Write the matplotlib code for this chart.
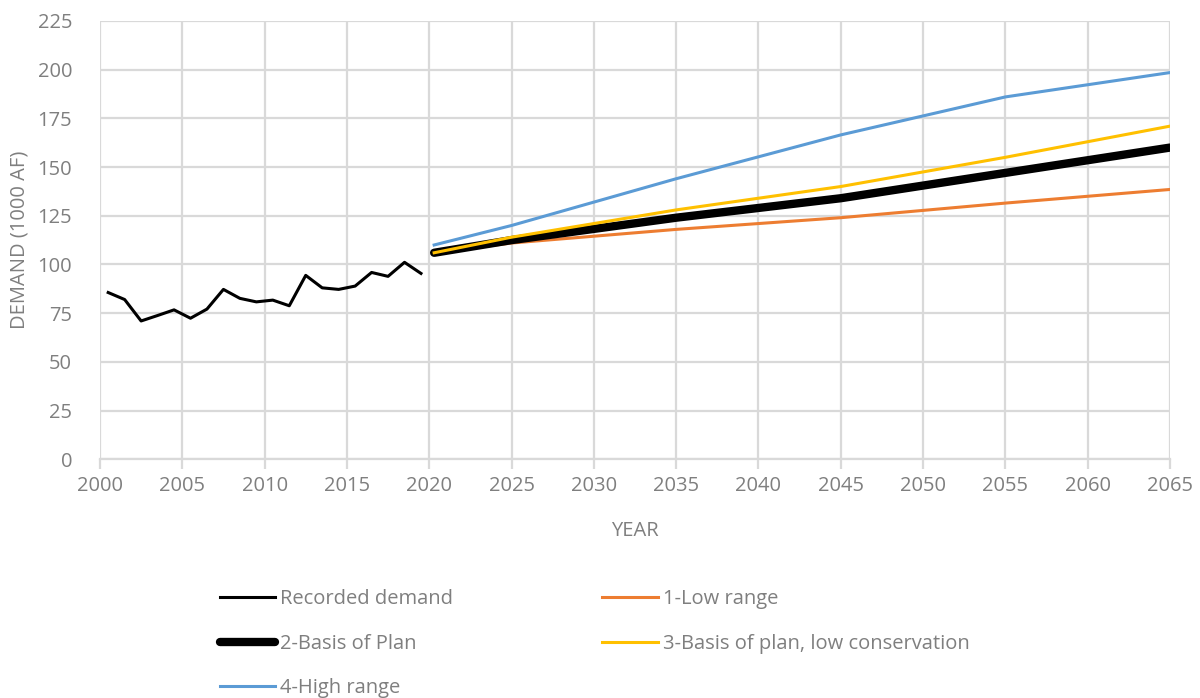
import matplotlib
matplotlib.use("Agg")
import matplotlib.pyplot as plt

# recorded annual demand (1000 AF), plotted mid-year
rec_years = [2000.5, 2001.5, 2002.5, 2003.5, 2004.5, 2005.5, 2006.5, 2007.5, 2008.5, 2009.5,
             2010.5, 2011.5, 2012.5, 2013.5, 2014.5, 2015.5, 2016.5, 2017.5, 2018.5, 2019.5]
rec_demand = [85.6, 82.0, 71.0, 73.8, 76.7, 72.4, 77.1, 87.2, 82.6, 80.8,
              81.7, 78.8, 94.4, 88.0, 87.2, 88.9, 95.9, 93.9, 101.1, 95.4]

# projection scenarios
proj_years = [2020.3, 2025, 2035, 2045, 2055, 2065]
low_range = [106, 111, 118, 124, 131.5, 138.5]
basis_plan = [106, 112.5, 124, 134, 147, 160]
basis_low_cons = [106, 114, 128, 140, 155, 171]
high_range = [110, 120, 144, 166.5, 186, 198.5]

x_ticks = list(range(2000, 2066, 5))
y_ticks = list(range(0, 226, 25))

grey = "#7f7f7f"
grid_c = "#d9d9d9"
fs = 14.5
plt.rcParams["font.family"] = ["Open Sans", "DejaVu Sans"]

fig = plt.figure(figsize=(12, 6.98), dpi=100)
ax = fig.add_axes([0.0833, 0.342, 0.8917, 0.628])

l1, = ax.plot(rec_years, rec_demand, color="black", lw=2.2, label="Recorded demand")
l2, = ax.plot(proj_years, low_range, color="#ed7d31", lw=2.2, label="1-Low range", zorder=3)
l3, = ax.plot(proj_years, basis_plan, color="black", lw=6, solid_capstyle="round",
              label="2-Basis of Plan", zorder=4)
l4, = ax.plot(proj_years, basis_low_cons, color="#ffc000", lw=2.2,
              label="3-Basis of plan, low conservation", zorder=5)
l5, = ax.plot(proj_years, high_range, color="#5b9bd5", lw=2.2, label="4-High range", zorder=3)

ax.set_xlim(2000, 2065)
ax.set_ylim(0, 225)
ax.set_xticks(x_ticks)
ax.set_yticks(y_ticks)
ax.grid(True, color=grid_c, lw=1.6)
ax.set_axisbelow(True)
for s in ["top", "right", "left"]:
    ax.spines[s].set_visible(False)
ax.spines["bottom"].set_color(grid_c)
ax.spines["bottom"].set_linewidth(1.6)
ax.tick_params(axis="x", colors=grey, labelsize=fs, length=7, width=1.6, color=grid_c, pad=5)
ax.tick_params(axis="y", colors=grey, labelsize=fs, length=0, pad=20)
ax.set_xlabel("YEAR", color=grey, fontsize=fs, labelpad=18)
ax.set_ylabel("DEMAND (1000 AF)", color=grey, fontsize=fs, labelpad=6)

# column-major fill: col 1 = rows of left entries, col 2 = right entries
leg = fig.legend(handles=[l1, l3, l5, l2, l4], loc="upper left", bbox_to_anchor=(0.168, 0.182),
                 ncol=2, frameon=False, fontsize=fs, handlelength=2.75, handletextpad=0.25,
                 columnspacing=7.4, labelspacing=1.22)
for t in leg.get_texts():
    t.set_color(grey)

fig.savefig("out.png", dpi=100)
